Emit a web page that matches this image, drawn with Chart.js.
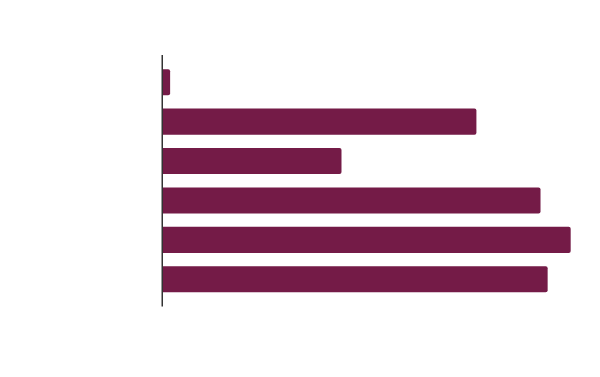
<!DOCTYPE html>
<html>
<head>
<meta charset="utf-8">
<script src="https://cdn.jsdelivr.net/npm/chart.js@4"></script>
<style>
  html, body { margin: 0; padding: 0; background: #fff; }
  #wrap { width: 600px; height: 377px; }
</style>
</head>
<body>
<div id="wrap"><canvas id="chart"></canvas></div>
<script>
// categories (labels are not shown in the picture)
const categories = ['A', 'B', 'C', 'D', 'E', 'F'];
// bar lengths on a 0–100 scale
const values = [1.7, 74.8, 42.6, 90.1, 97.3, 91.8];
const xMin = 0;
const xMax = 100;

// axis line that runs a little past the plot area, as in the reference
const axisLine = {
  id: 'axisLine',
  afterDatasetsDraw(chart) {
    const { ctx, chartArea } = chart;
    ctx.save();
    ctx.strokeStyle = '#333333';
    ctx.lineWidth = 1.5;
    ctx.beginPath();
    ctx.moveTo(chartArea.left - 0.75, chartArea.top - 7.5);
    ctx.lineTo(chartArea.left - 0.75, chartArea.bottom + 7.5);
    ctx.stroke();
    ctx.restore();
  }
};

new Chart(document.getElementById('chart').getContext('2d'), {
  type: 'bar',
  data: {
    labels: categories,
    datasets: [{
      data: values,
      backgroundColor: '#741b47',
      borderRadius: { topRight: 2, bottomRight: 2 },
      borderSkipped: 'left',
      barPercentage: 0.66,
      categoryPercentage: 1
    }]
  },
  options: {
    indexAxis: 'y',
    responsive: true,
    maintainAspectRatio: false,
    animation: false,
    layout: { padding: { left: 163, right: 18, top: 62.5, bottom: 78 } },
    plugins: { legend: { display: false }, tooltip: { enabled: false } },
    scales: {
      x: { min: xMin, max: xMax, display: false },
      y: { display: false }
    }
  },
  plugins: [axisLine]
});
</script>
</body>
</html>
